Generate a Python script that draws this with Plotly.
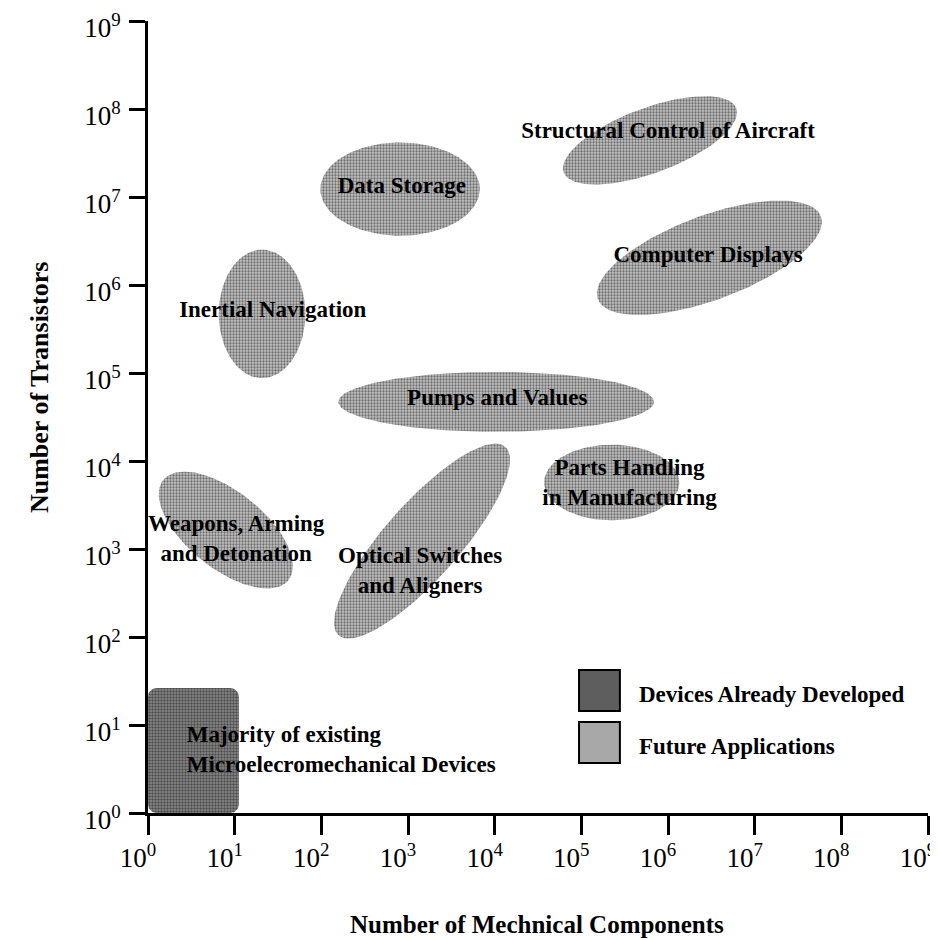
import numpy as np
import plotly.graph_objects as go

# ---------------- data ----------------
tick_values = [10 ** k for k in range(10)]
tick_text = [f"10<sup>{k}</sup>" for k in range(10)]

# Future applications: ellipse centre (counts), semi-axes (decades), tilt (deg)
app_labels = [
    "Structural Control of Aircraft",
    "Data Storage",
    "Computer Displays",
    "Inertial Navigation",
    "Pumps and Values",
    "Parts Handling<br>in Manufacturing",
    "Weapons, Arming<br>and Detonation",
    "Optical Switches<br>and Aligners",
]
center_components = [6.2e5, 8.1e2, 3.0e6, 2.07e1, 1.04e4, 2.24e5, 7.9e0, 1.45e3]
center_transistors = [4.4e7, 1.23e7, 2.04e6, 4.7e5, 4.7e4, 5.7e3, 1.64e3, 1.23e3]
semi_x_decades = [1.06, 0.92, 1.37, 0.50, 1.82, 0.78, 0.92, 1.44]
semi_y_decades = [0.37, 0.53, 0.48, 0.73, 0.34, 0.43, 0.44, 0.43]
tilt_deg = [20, 0, 20, 0, 0, 0, -38, 48]

label_components = [1.0e6, 8.5e2, 2.9e6, 2.75e1, 1.07e4, 3.6e5, 1.04e1, 1.38e3]
label_transistors = [5.4e7, 1.29e7, 2.1e6, 5.0e5, 5.0e4, 5.5e3, 1.26e3, 5.5e2]

# Devices already developed: box extent
existing_label = "Majority of existing<br>Microelecromechanical Devices"
existing_components = [1.0, 11.2]
existing_transistors = [1.0, 26.3]
existing_label_pos = (2.8, 5.0)

legend_labels = ["Devices Already Developed", "Future Applications"]

# ---------------- styles ----------------
SERIF = "Liberation Serif, Times New Roman, serif"
LIGHT_PAT = dict(shape=".", fgcolor="#1a1a1a", bgcolor="#c2c2c2", size=3, solidity=0.45)
DARK_PAT = dict(shape=".", fgcolor="#101010", bgcolor="#8c8c8c", size=3, solidity=0.5)

fig = go.Figure()


def ellipse(cx, cy, rx, ry, tilt, n=160):
    t = np.linspace(0, 2 * np.pi, n)
    th = np.deg2rad(tilt)
    lx = np.log10(cx) + rx * np.cos(t) * np.cos(th) - ry * np.sin(t) * np.sin(th)
    ly = np.log10(cy) + rx * np.cos(t) * np.sin(th) + ry * np.sin(t) * np.cos(th)
    return 10 ** lx, 10 ** ly


for cx, cy, rx, ry, tl in zip(center_components, center_transistors,
                              semi_x_decades, semi_y_decades, tilt_deg):
    ex, ey = ellipse(cx, cy, rx, ry, tl)
    fig.add_trace(go.Scatter(x=ex, y=ey, mode="lines", fill="toself",
                             line=dict(width=0, color="rgba(0,0,0,0)"),
                             fillcolor="rgba(0,0,0,0)",
                             fillpattern=LIGHT_PAT, hoverinfo="skip",
                             showlegend=False))


def rounded_box(xr, yr, r=0.1, n=12):
    x0, x1 = np.log10(xr[0]), np.log10(xr[1])
    y0, y1 = np.log10(yr[0]), np.log10(yr[1])
    pts = []
    corners = [(x1 - r, y0 + r, -90), (x1 - r, y1 - r, 0),
               (x0 + r, y1 - r, 90), (x0 + r, y0 + r, 180)]
    for ccx, ccy, a0 in corners:
        for a in np.linspace(a0, a0 + 90, n):
            pts.append((ccx + r * np.cos(np.deg2rad(a)), ccy + r * np.sin(np.deg2rad(a))))
    pts.append(pts[0])
    px = np.clip(np.array([p[0] for p in pts]), x0, x1)
    py = np.clip(np.array([p[1] for p in pts]), y0, y1)
    return 10 ** px, 10 ** py


bx, by = rounded_box(existing_components, existing_transistors)
fig.add_trace(go.Scatter(x=bx, y=by, mode="lines", fill="toself",
                         line=dict(width=0, color="rgba(0,0,0,0)"),
                         fillcolor="rgba(0,0,0,0)", fillpattern=DARK_PAT,
                         hoverinfo="skip", showlegend=False))

# labels
fig.add_trace(go.Scatter(
    x=label_components, y=label_transistors, mode="text",
    text=[f"<b>{t}</b>" for t in app_labels], textposition="middle center",
    textfont=dict(family=SERIF, size=23, color="black"),
    cliponaxis=False, hoverinfo="skip", showlegend=False))
fig.add_trace(go.Scatter(
    x=[existing_label_pos[0]], y=[existing_label_pos[1]], mode="text",
    text=[f"<b>{existing_label}</b>"], textposition="middle right",
    textfont=dict(family=SERIF, size=23, color="black"),
    cliponaxis=False, hoverinfo="skip", showlegend=False))

axis_common = dict(
    type="log", range=[0, 9], tickvals=tick_values, ticktext=tick_text,
    ticks="outside", tickwidth=3, tickcolor="black",
    showline=True, linewidth=3, linecolor="black",
    showgrid=False, zeroline=False, ticklabeloverflow="allow",
    automargin=False,
    tickfont=dict(family=SERIF, size=27, color="black"),
)

# the page body has an 8px margin, so the figure is 8px smaller than the window;
# plot area spans window x 148-928, y 21-813
fig.update_layout(
    width=930, height=932,
    margin=dict(l=140, r=10, t=13, b=127, autoexpand=False),
    paper_bgcolor="white", plot_bgcolor="white",
    showlegend=False,
    xaxis=dict(**axis_common, ticklen=19, ticklabelshift=-10),
    yaxis=dict(**axis_common, ticklen=16, ticklabelshift=7, ticklabelstandoff=3),
)

# legend boxes (paper coordinates)
legend_fill = ["#5e5e5e", "#a8a8a8"]
legend_y = [(0.1288, 0.1806), (0.0631, 0.1149)]
for (y0, y1), fc, lab in zip(legend_y, legend_fill, legend_labels):
    fig.add_shape(type="rect", xref="paper", yref="paper",
                  x0=0.5526, x1=0.605, y0=y0, y1=y1,
                  fillcolor=fc, line=dict(color="black", width=2))
    fig.add_annotation(xref="paper", yref="paper", x=0.627, y=(y0 + y1) / 2 - 0.005,
                       text=f"<b>{lab}</b>", showarrow=False,
                       xanchor="left", yanchor="middle",
                       font=dict(family=SERIF, size=23, color="black"))

# axis titles
fig.add_annotation(xref="paper", yref="paper", x=0.499, y=-0.1414,
                   text="<b>Number of Mechnical Components</b>", showarrow=False,
                   xanchor="center", yanchor="middle",
                   font=dict(family=SERIF, size=25, color="black"))
fig.add_annotation(xref="paper", yref="paper", x=-0.1397, y=0.5366,
                   text="<b>Number of Transistors</b>", showarrow=False,
                   textangle=-90, xanchor="center", yanchor="middle",
                   font=dict(family=SERIF, size=26, color="black"))

fig.write_html("out.html")
